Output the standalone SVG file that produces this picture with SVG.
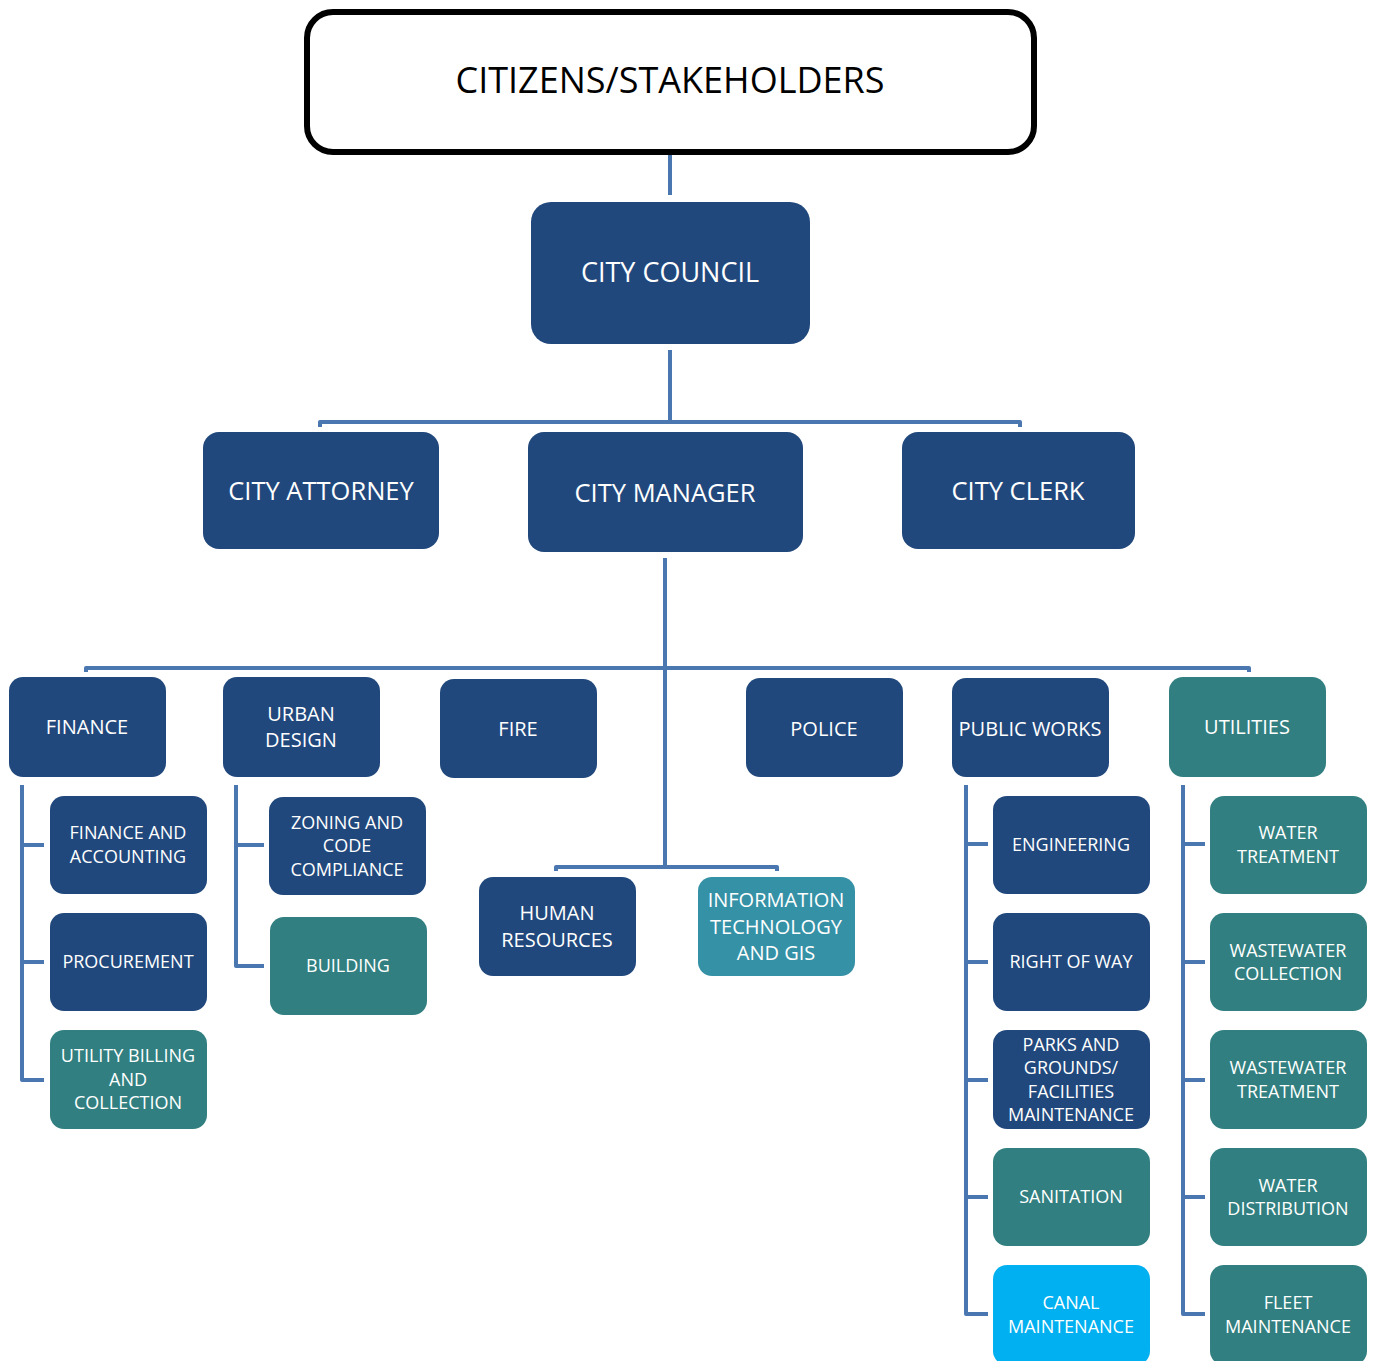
<svg xmlns="http://www.w3.org/2000/svg" width="1376" height="1361" viewBox="0 0 1376 1361">
<style>
text{font-family:"Open Sans","Noto Sans",sans-serif;fill:#fff;text-anchor:middle}
.d{fill:#21487c}
.t{fill:#317f80}
.c{fill:#3591a6}
.s{fill:#00b0f0}
.L{font-size:25.5px}
.M{font-size:20px}
.S{font-size:18px}
#connectors path{fill:none;stroke:#4a77b0;stroke-width:4;stroke-linejoin:round}
</style>
<rect width="1376" height="1361" fill="#fff"/>
<g id="connectors">
<path d="M670 153V195"/>
<path d="M670 350V422"/>
<path d="M320 427V422H1020V427"/>
<path d="M665 558V867"/>
<path d="M86 672V668H1249V672"/>
<path d="M556 871V867H777V871"/>
<path d="M22 785V1080H44M22 845H44M22 962H44"/>
<path d="M236 785V966H264M236 845H264"/>
<path d="M966 785V1314H988M966 844H988M966 962H988M966 1080H988M966 1197H988"/>
<path d="M1183 785V1314H1205M1183 844H1205M1183 962H1205M1183 1080H1205M1183 1197H1205"/>
</g>
<g id="citizens"><rect x="307" y="12" width="727" height="140" rx="26" fill="#fff" stroke="#000" stroke-width="6"/><text x="670" y="93" style="font-size:36px;fill:#000">CITIZENS/STAKEHOLDERS</text></g>
<g id="council"><rect class="d" x="531" y="202" width="279" height="142" rx="20"/><text x="670" y="282" style="font-size:27px">CITY COUNCIL</text></g>
<g id="attorney"><rect class="d" x="203" y="432" width="236" height="117" rx="16"/><text class="L" x="321" y="500">CITY ATTORNEY</text></g>
<g id="manager"><rect class="d" x="528" y="432" width="275" height="120" rx="16"/><text class="L" x="665" y="502">CITY MANAGER</text></g>
<g id="clerk"><rect class="d" x="902" y="432" width="233" height="117" rx="16"/><text class="L" x="1018" y="500">CITY CLERK</text></g>
<g id="finance"><rect class="d" x="9" y="677" width="157" height="100" rx="14"/><text class="M" x="87" y="734">FINANCE</text></g>
<g id="urban"><rect class="d" x="223" y="677" width="157" height="100" rx="14"/><text class="M" x="301" y="721">URBAN</text><text class="M" x="301" y="747">DESIGN</text></g>
<g id="fire"><rect class="d" x="440" y="679" width="157" height="99" rx="14"/><text class="M" x="518" y="736">FIRE</text></g>
<g id="police"><rect class="d" x="746" y="678" width="157" height="99" rx="14"/><text class="M" x="824" y="736">POLICE</text></g>
<g id="publicworks"><rect class="d" x="952" y="678" width="157" height="99" rx="14"/><text class="M" x="1030" y="736">PUBLIC WORKS</text></g>
<g id="utilities"><rect class="t" x="1169" y="677" width="157" height="100" rx="14"/><text class="M" x="1247" y="734">UTILITIES</text></g>
<g id="hr"><rect class="d" x="479" y="877" width="157" height="99" rx="14"/><text class="M" x="557" y="920">HUMAN</text><text class="M" x="557" y="947">RESOURCES</text></g>
<g id="it"><rect class="c" x="698" y="877" width="157" height="99" rx="14"/><text class="M" x="776" y="907">INFORMATION</text><text class="M" x="776" y="934">TECHNOLOGY</text><text class="M" x="776" y="960">AND GIS</text></g>
<g id="finacc"><rect class="d" x="50" y="796" width="157" height="98" rx="14"/><text class="S" x="128" y="839">FINANCE AND</text><text class="S" x="128" y="863">ACCOUNTING</text></g>
<g id="procurement"><rect class="d" x="50" y="913" width="157" height="98" rx="14"/><text class="S" x="128" y="968">PROCUREMENT</text></g>
<g id="billing"><rect class="t" x="50" y="1030" width="157" height="99" rx="14"/><text class="S" x="128" y="1062">UTILITY BILLING</text><text class="S" x="128" y="1086">AND</text><text class="S" x="128" y="1109">COLLECTION</text></g>
<g id="zoning"><rect class="d" x="269" y="797" width="157" height="98" rx="14"/><text class="S" x="347" y="829">ZONING AND</text><text class="S" x="347" y="852">CODE</text><text class="S" x="347" y="876">COMPLIANCE</text></g>
<g id="building"><rect class="t" x="270" y="917" width="157" height="98" rx="14"/><text class="S" x="348" y="972">BUILDING</text></g>
<g id="engineering"><rect class="d" x="993" y="796" width="157" height="98" rx="14"/><text class="S" x="1071" y="851">ENGINEERING</text></g>
<g id="rightofway"><rect class="d" x="993" y="913" width="157" height="98" rx="14"/><text class="S" x="1071" y="968">RIGHT OF WAY</text></g>
<g id="parks"><rect class="d" x="993" y="1030" width="157" height="99" rx="14"/><text class="S" x="1071" y="1051">PARKS AND</text><text class="S" x="1071" y="1074">GROUNDS/</text><text class="S" x="1071" y="1098">FACILITIES</text><text class="S" x="1071" y="1121">MAINTENANCE</text></g>
<g id="sanitation"><rect class="t" x="993" y="1148" width="157" height="98" rx="14"/><text class="S" x="1071" y="1203">SANITATION</text></g>
<g id="canal"><rect class="s" x="993" y="1265" width="157" height="100" rx="14"/><text class="S" x="1071" y="1309">CANAL</text><text class="S" x="1071" y="1333">MAINTENANCE</text></g>
<g id="watertreat"><rect class="t" x="1210" y="796" width="157" height="98" rx="14"/><text class="S" x="1288" y="839">WATER</text><text class="S" x="1288" y="863">TREATMENT</text></g>
<g id="wwcollect"><rect class="t" x="1210" y="913" width="157" height="98" rx="14"/><text class="S" x="1288" y="957">WASTEWATER</text><text class="S" x="1288" y="980">COLLECTION</text></g>
<g id="wwtreat"><rect class="t" x="1210" y="1030" width="157" height="99" rx="14"/><text class="S" x="1288" y="1074">WASTEWATER</text><text class="S" x="1288" y="1098">TREATMENT</text></g>
<g id="waterdist"><rect class="t" x="1210" y="1148" width="157" height="98" rx="14"/><text class="S" x="1288" y="1192">WATER</text><text class="S" x="1288" y="1215">DISTRIBUTION</text></g>
<g id="fleet"><rect class="t" x="1210" y="1265" width="157" height="100" rx="14"/><text class="S" x="1288" y="1309">FLEET</text><text class="S" x="1288" y="1333">MAINTENANCE</text></g>
</svg>
